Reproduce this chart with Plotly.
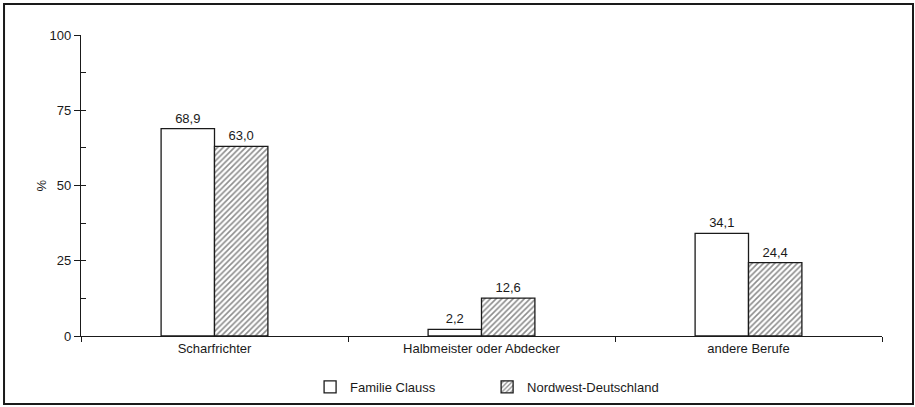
import plotly.graph_objects as go

categories = ["Scharfrichter", "Halbmeister oder Abdecker", "andere Berufe"]
familie_clauss = [68.9, 2.2, 34.1]
nordwest = [63.0, 12.6, 24.4]
clauss_labels = ["68,9", "2,2", "34,1"]
nordwest_labels = ["63,0", "12,6", "24,4"]
y_ticks = [0, 25, 50, 75, 100]

FONT = "Liberation Sans, Arial, sans-serif"
INK = "#1a1a1a"
FS = 13

fig = go.Figure()
fig.add_trace(go.Bar(
    name="Familie Clauss", x=categories, y=familie_clauss,
    text=clauss_labels, textposition="outside",
    textfont=dict(size=FS, color=INK, family=FONT),
    marker=dict(color="white", line=dict(color=INK, width=1.3)),
    cliponaxis=False, legend="legend",
))
fig.add_trace(go.Bar(
    name="Nordwest-Deutschland", x=categories, y=nordwest,
    text=nordwest_labels, textposition="outside",
    textfont=dict(size=FS, color=INK, family=FONT),
    marker=dict(color="white", line=dict(color=INK, width=1.3),
                pattern=dict(shape="/", fgcolor=INK, bgcolor="white",
                             size=4, solidity=0.4)),
    cliponaxis=False, legend="legend2",
))
# invisible trace to carry inside ticks on an overlaying axis
fig.add_trace(go.Scatter(x=[categories[0]], y=[0], yaxis="y2", mode="markers",
                         marker=dict(opacity=0), showlegend=False, hoverinfo="skip"))

legend_common = dict(orientation="h", y=-0.169, yanchor="middle", xanchor="left",
                     font=dict(size=FS, color=INK, family=FONT),
                     bgcolor="rgba(0,0,0,0)")

fig.update_layout(
    width=915, height=407,
    margin=dict(l=81, r=33, t=35, b=71, autoexpand=False),
    paper_bgcolor="white", plot_bgcolor="white",
    barmode="group", bargap=0.6, bargroupgap=0,
    font=dict(family=FONT, size=FS, color=INK),
    showlegend=True,
    legend=dict(x=0.286, **legend_common),
    legend2=dict(x=0.507, **legend_common),
    xaxis=dict(showline=True, linecolor=INK, linewidth=1.3, ticks="outside",
               tickson="boundaries", ticklen=5, tickcolor=INK, tickwidth=1.3,
               showgrid=False, zeroline=False, tickfont=dict(size=FS, color=INK)),
    yaxis=dict(range=[0, 100], tickvals=y_ticks, ticks="outside", ticklen=6,
               tickcolor=INK, tickwidth=1.3, showline=True, linecolor=INK, linewidth=1.3,
               showgrid=False, zeroline=False, tickfont=dict(size=FS, color=INK)),
    yaxis2=dict(range=[0, 100], overlaying="y", side="left", dtick=12.5, tick0=0,
                ticks="inside", ticklen=5, tickcolor=INK, tickwidth=1.3,
                showticklabels=False, showline=False, showgrid=False, zeroline=False),
    shapes=[dict(type="rect", xref="paper", yref="paper",
                 x0=-0.0961, x1=1.0387, y0=-0.226, y1=1.103,
                 line=dict(color=INK, width=2), fillcolor="rgba(0,0,0,0)", layer="below")],
    annotations=[dict(text="%", xref="paper", yref="paper", x=-0.0487, y=0.5,
                      xanchor="center", yanchor="middle",
                      showarrow=False, textangle=-90,
                      font=dict(size=FS, color=INK, family=FONT))],
)

fig.write_html("out.html", config={"displayModeBar": False},
               post_script="document.body.style.margin='0';")
